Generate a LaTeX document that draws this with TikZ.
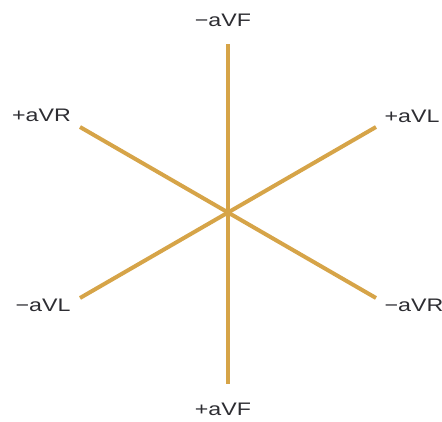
\documentclass[tikz,border=0pt]{standalone}
\usepackage{fontspec}
\setmainfont{Liberation Sans}
\definecolor{axisgold}{RGB}{214,164,72}
\definecolor{labelgray}{RGB}{45,45,50}
\newcommand{\widetext}[1]{\scalebox{1.28}[1]{#1}}
\begin{document}
\begin{tikzpicture}[x=0.75pt,y=-0.75pt,
  axis/.style={draw=axisgold,line width=3pt},
  lbl/.style={text=labelgray,font=\fontsize{13.6}{15}\selectfont,inner sep=0pt}]
\useasboundingbox (0,0) rectangle (442,421);
\coordinate (c) at (228,213);
\coordinate (t) at (228,44);
\coordinate (b) at (228,384);
\coordinate (ul) at (80,127);
\coordinate (ur) at (376,127);
\coordinate (ll) at (80,298);
\coordinate (lr) at (376,298);
\draw[axis] (t) -- (b);
\draw[axis] (ul) -- (lr);
\draw[axis] (ur) -- (ll);
\node[lbl] (naVF) at (223,20) {\widetext{−aVF}};
\node[lbl] (paVR) at (41.5,115.5) {\widetext{+aVR}};
\node[lbl] (paVL) at (412,116) {\widetext{+aVL}};
\node[lbl] (naVL) at (43,305) {\widetext{−aVL}};
\node[lbl] (naVR) at (414,305) {\widetext{−aVR}};
\node[lbl] (paVF) at (223,409.5) {\widetext{+aVF}};
\end{tikzpicture}
\end{document}
